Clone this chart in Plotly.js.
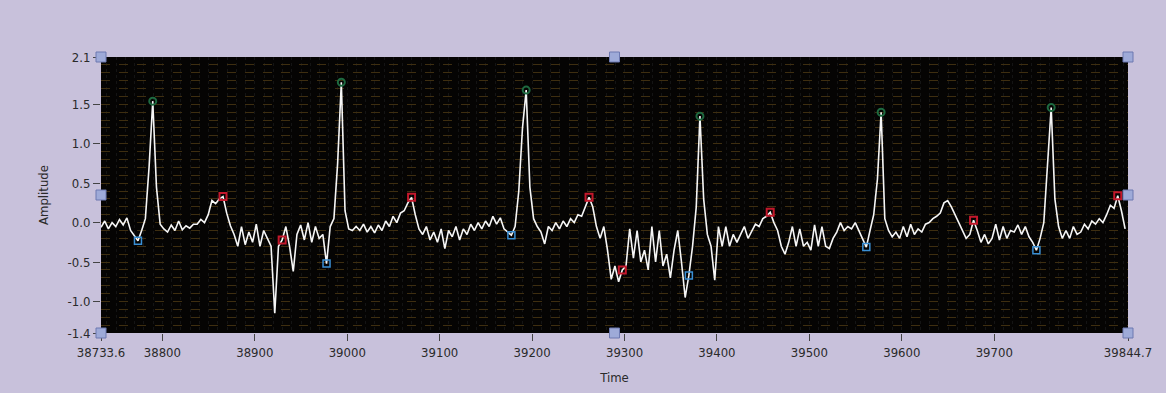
<!DOCTYPE html>
<html>
<head>
<meta charset="utf-8">
<script src="https://cdn.plot.ly/plotly-3.0.1.min.js"></script>
<style>
  html, body { margin: 0; padding: 0; background: #c8c1db; }
  #chart { width: 1166px; height: 393px; }
</style>
</head>
<body>
<div id="chart"></div>
<script>
// Waveform: start time and sample interval (LabVIEW waveform t0 / dt)
const t0 = 38733.6;
const dt = 4;
const amplitude = [
  -0.06, 0.02, -0.08, 0.00, -0.05, 0.04, -0.03, 0.06, -0.10, -0.16,
  -0.23, -0.10, 0.05, 0.70, 1.54, 0.45, -0.02, -0.08, -0.12, -0.03,
  -0.10, 0.02, -0.09, -0.04, -0.07, -0.02, -0.02, 0.04, 0.00, 0.10,
  0.28, 0.24, 0.30, 0.33, 0.12, -0.04, -0.15, -0.30, -0.05, -0.28,
  -0.12, -0.25, -0.02, -0.30, -0.10, -0.20, -0.30, -1.15, -0.30, -0.22,
  -0.05, -0.30, -0.62, -0.15, -0.03, -0.22, 0.00, -0.25, -0.05, -0.20,
  -0.15, -0.52, -0.05, 0.05, 0.75, 1.78, 0.15, -0.08, -0.10, -0.05,
  -0.10, -0.02, -0.12, -0.05, -0.13, -0.03, -0.10, 0.02, -0.05, 0.08,
  0.00, 0.12, 0.15, 0.25, 0.32, 0.10, -0.08, -0.15, -0.05, -0.22,
  -0.12, -0.25, -0.08, -0.33, -0.10, -0.18, -0.05, -0.22, -0.08, -0.15,
  -0.02, -0.10, 0.00, -0.08, 0.02, -0.05, 0.08, -0.02, 0.06, -0.08,
  -0.12, -0.16, -0.05, 0.40, 1.20, 1.68, 0.45, 0.05, -0.05, -0.12,
  -0.27, -0.05, -0.10, 0.00, -0.08, 0.02, -0.05, 0.05, 0.00, 0.10,
  0.08, 0.20, 0.32, 0.20, -0.05, -0.20, -0.05, -0.35, -0.72, -0.55,
  -0.75, -0.60, -0.55, -0.08, -0.45, -0.10, -0.50, -0.35, -0.60, -0.05,
  -0.50, -0.10, -0.55, -0.40, -0.70, -0.35, -0.10, -0.50, -0.95, -0.67,
  -0.30, 0.20, 1.35, 0.30, -0.15, -0.30, -0.73, -0.05, -0.30, -0.05,
  -0.30, -0.15, -0.25, -0.15, -0.05, -0.20, -0.10, -0.02, -0.05, 0.05,
  0.08, 0.13, 0.00, -0.10, -0.30, -0.40, -0.25, -0.05, -0.30, -0.08,
  -0.30, -0.25, -0.35, -0.03, -0.30, -0.05, -0.30, -0.33, -0.20, -0.12,
  0.00, -0.10, -0.05, -0.08, 0.00, -0.10, -0.20, -0.31, -0.10, 0.10,
  0.55, 1.40, 0.05, -0.10, -0.18, -0.12, -0.20, -0.05, -0.18, -0.02,
  -0.15, -0.08, -0.12, -0.02, 0.00, 0.05, 0.08, 0.12, 0.25, 0.28,
  0.20, 0.10, -0.02, -0.12, -0.20, -0.15, 0.03, -0.10, -0.25, -0.15,
  -0.27, -0.20, -0.02, -0.22, -0.05, -0.20, -0.10, -0.12, -0.03, -0.15,
  -0.05, -0.18, -0.25, -0.35, -0.20, 0.00, 0.70, 1.46, 0.30, -0.05,
  -0.20, -0.10, -0.20, -0.05, -0.15, -0.12, -0.02, -0.08, 0.02, -0.02,
  0.05, 0.00, 0.10, 0.22, 0.18, 0.34, 0.15, -0.08
];

// Detected points
const rPeakTime = [38789.6, 38993.6, 39193.6, 39381.6, 39577.6, 39761.6];
const rPeakAmp  = [1.54, 1.78, 1.68, 1.35, 1.40, 1.46];
const sPointTime = [38773.6, 38977.6, 39177.6, 39369.6, 39561.6, 39745.6];
const sPointAmp  = [-0.23, -0.52, -0.16, -0.67, -0.31, -0.35];
const tPeakTime = [38865.6, 38929.6, 39069.6, 39261.6, 39297.6, 39457.6, 39677.6, 39833.6];
const tPeakAmp  = [0.33, -0.22, 0.32, 0.32, -0.60, 0.13, 0.03, 0.34];

// Axis ticks
const xTickVals = [38733.6, 38800, 38900, 39000, 39100, 39200, 39300, 39400, 39500, 39600, 39700, 39844.7];
const xTickText = ["38733.6", "38800", "38900", "39000", "39100", "39200", "39300", "39400", "39500", "39600", "39700", "39844.7"];
const yTickVals = [-1.4, -1.0, -0.5, 0.0, 0.5, 1.0, 1.5, 2.1];
const yTickText = ["-1.4", "-1.0", "-0.5", "0.0", "0.5", "1.0", "1.5", "2.1"];

const time = amplitude.map((_, i) => +(t0 + i * dt).toFixed(1));

const traces = [
  {
    x: time, y: amplitude, type: 'scatter', mode: 'lines',
    line: { color: '#f6f6f6', width: 1.6 }, hoverinfo: 'skip', showlegend: false
  },
  {
    x: rPeakTime, y: rPeakAmp, type: 'scatter', mode: 'markers',
    marker: { symbol: 'circle-open', size: 7, color: '#1e6a40', line: { width: 2, color: '#1e6a40' } },
    showlegend: false
  },
  {
    x: sPointTime, y: sPointAmp, type: 'scatter', mode: 'markers',
    marker: { symbol: 'square-open', size: 7, color: '#3a8fd4', line: { width: 1.5, color: '#3a8fd4' } },
    showlegend: false
  },
  {
    x: tPeakTime, y: tPeakAmp, type: 'scatter', mode: 'markers',
    marker: { symbol: 'square-open', size: 7, color: '#c4182c', line: { width: 2, color: '#c4182c' } },
    showlegend: false
  }
];

// LabVIEW-style resize handles on the plot area frame
function handle(px, py) {
  return {
    type: 'rect', xref: 'paper', yref: 'paper', layer: 'above',
    xsizemode: 'pixel', ysizemode: 'pixel', xanchor: px, yanchor: py,
    x0: -5, x1: 5, y0: -5, y1: 5,
    fillcolor: '#9eaad8', line: { color: '#6c78b0', width: 1 }
  };
}
const handles = [
  handle(0, 1), handle(0.5, 1), handle(1, 1),
  handle(0, 0.5), handle(1, 0.5),
  handle(0, 0), handle(0.5, 0), handle(1, 0)
];

const fontFam = 'DejaVu Sans Condensed, DejaVu Sans, sans-serif';
const tickFont = { family: fontFam, size: 13, color: '#2a2a2a' };

const layout = {
  width: 1166, height: 393,
  margin: { l: 101, r: 38, t: 57, b: 60, pad: 0 },
  paper_bgcolor: '#c8c1db',
  plot_bgcolor: '#050403',
  showlegend: false,
  xaxis: {
    range: [38733.6, 39844.7],
    tickmode: 'array', tickvals: xTickVals, ticktext: xTickText,
    ticks: 'outside', ticklen: 7, tickcolor: '#444', tickwidth: 1,
    tickfont: tickFont,
    showgrid: false, zeroline: false, showline: false,
    minor: { tickmode: 'linear', tick0: 38730, dtick: 10, showgrid: true, gridcolor: '#141414', griddash: 'dot', gridwidth: 1, ticks: '' },
    title: { text: 'Time', font: { family: fontFam, size: 13, color: '#2a2a2a' }, standoff: 14 }
  },
  yaxis: {
    range: [-1.4, 2.1],
    tickmode: 'array', tickvals: yTickVals, ticktext: yTickText,
    ticks: 'outside', ticklen: 7, tickcolor: '#444', tickwidth: 1,
    tickfont: tickFont,
    showgrid: false, zeroline: false, showline: false,
    minor: { tickmode: 'linear', tick0: 0, dtick: 0.1, showgrid: true, gridcolor: '#3e2e10', griddash: 'dash', gridwidth: 1, ticks: '' },
    title: { text: 'Amplitude', font: { family: fontFam, size: 13, color: '#2a2a2a' }, standoff: 16 }
  },
  shapes: handles
};

Plotly.newPlot('chart', traces, layout, { displayModeBar: false, staticPlot: true });
</script>
</body>
</html>
